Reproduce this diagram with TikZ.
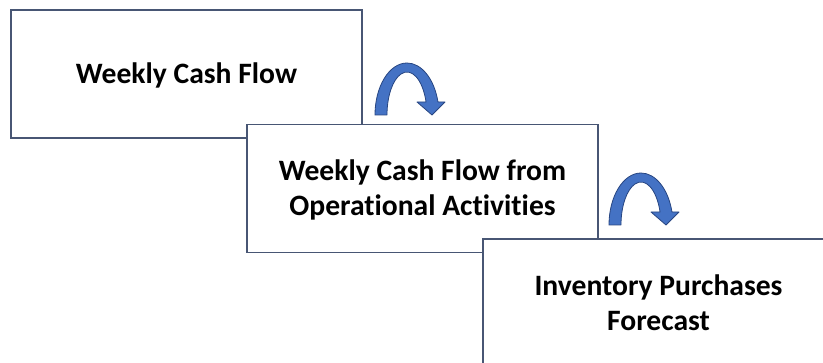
\documentclass[tikz,border=0pt]{standalone}
\usepackage{fontspec}
\setmainfont{Carlito}[Ligatures=NoCommon]
\definecolor{cardline}{RGB}{72,86,116}
\definecolor{turnfill}{RGB}{68,114,196}
\definecolor{turnline}{RGB}{40,70,130}
\tikzset{
  card/.style={draw=cardline, line width=1.3pt, fill=white, rectangle,
    minimum width=351pt, minimum height=128pt, inner sep=0pt, outer sep=0pt},
  cardtext/.style={font=\fontsize{29.6}{35}\selectfont\bfseries, align=center,
    inner sep=0pt},
  turn/.pic={
    \path[fill=turnfill, draw=turnline, line width=0.8pt, line join=round]
      (-32,0) arc[start angle=180, end angle=14.5, x radius=32pt, y radius=52pt]
      -- (38,13) -- (25,0) -- (10,13) -- (19.06,13)
      arc[start angle=17.6, end angle=180, x radius=20pt, y radius=43pt]
      -- cycle;
  }
}
\begin{document}
\begin{tikzpicture}[x=1pt, y=1pt]
  \useasboundingbox (0,0) rectangle (823,-363);
  \clip (0,0) rectangle (823,-363);
  \fill[white] (0,0) rectangle (823,-363);
  % three stacked cards
  \node[card] (c1) at (186.5,-74) {};
  \node[cardtext] (t1) at (186.5,-83.3) [anchor=base] {Weekly Cash Flow};
  \node[card] (c2) at (422.5,-188.5) {};
  \node[cardtext, text height=54pt, text depth=0pt] (t2) at (422.5,-188.5)
    {Weekly Cash Flow from\\Operational Activities};
  \node[card] (c3) at (658.5,-303) {};
  \node[cardtext, text height=54pt, text depth=0pt] (t3) at (658.5,-304)
    {Inventory Purchases\\Forecast};
  % curved arrows between the cards
  \pic at (407,-115) {turn};
  \pic at (641,-225) {turn};
\end{tikzpicture}
\end{document}
